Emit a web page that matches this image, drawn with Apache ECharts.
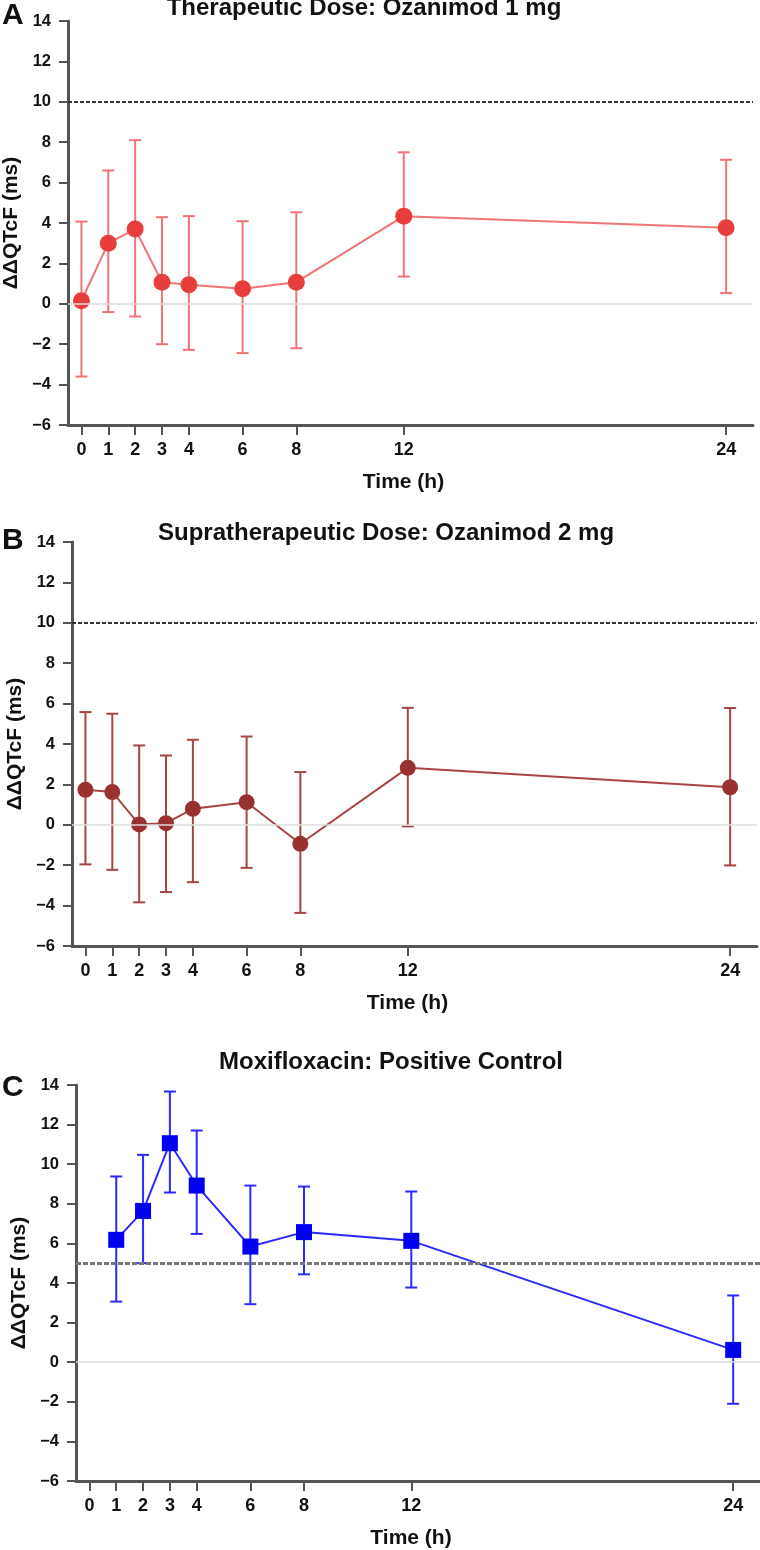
<!DOCTYPE html>
<html>
<head>
<meta charset="utf-8">
<script src="https://cdn.jsdelivr.net/npm/echarts@6/dist/echarts.min.js"></script>
<style>
html,body{margin:0;padding:0;background:#fff;}
#chart{width:760px;height:1550px;}
</style>
</head>
<body>
<div id="chart"></div>
<script>
// ---- data ----
const timesAB = [0, 1, 2, 3, 4, 6, 8, 12, 24];
const timesC = [1, 2, 3, 4, 6, 8, 12, 24];
const xTickValues = [0, 1, 2, 3, 4, 6, 8, 12, 24];

const meanA  = [0.15, 3.0, 3.7, 1.07, 0.94, 0.74, 1.07, 4.34, 3.76];
const lowerA = [-3.6, -0.41, -0.63, -2.0, -2.28, -2.44, -2.2, 1.35, 0.53];
const upperA = [4.07, 6.6, 8.1, 4.29, 4.34, 4.09, 4.53, 7.5, 7.13];

const meanB  = [1.73, 1.62, 0.02, 0.08, 0.79, 1.12, -0.94, 2.82, 1.86];
const lowerB = [-1.96, -2.23, -3.84, -3.33, -2.84, -2.13, -4.36, -0.08, -2.01];
const upperB = [5.58, 5.5, 3.93, 3.43, 4.21, 4.37, 2.61, 5.79, 5.78];

const meanC  = [6.18, 7.64, 11.06, 8.92, 5.84, 6.57, 6.13, 0.62];
const lowerC = [3.06, 5.0, 8.57, 6.48, 2.93, 4.44, 3.77, -2.1];
const upperC = [9.38, 10.47, 13.67, 11.7, 8.92, 8.87, 8.62, 3.37];

const titles = ['Therapeutic Dose: Ozanimod 1 mg', 'Supratherapeutic Dose: Ozanimod 2 mg', 'Moxifloxacin: Positive Control'];
const panelLetters = ['A', 'B', 'C'];
const refLines = [10, 10, 5];
const yAxisName = 'ΔΔQTcF (ms)';
const xAxisName = 'Time (h)';

// ---- styling / layout ----
const FONT = '"Liberation Sans", Arial, Helvetica, sans-serif';
const panels = [
  {times: timesAB, mean: meanA, lo: lowerA, hi: upperA, point: '#e83d3d', line: '#f07474', symbol: 'circle', size: 17,
   grid: {left: 68, top: 21, width: 685, height: 404}, titleX: 364, titleY: 8.5, letterY: 15.6,
   refColor: '#333', refWidth: 2, refDash: [4, 2]},
  {times: timesAB, mean: meanB, lo: lowerB, hi: upperB, point: '#993131', line: '#a84444', symbol: 'circle', size: 16,
   grid: {left: 72, top: 542, width: 685, height: 404}, titleX: 386, titleY: 533.5, letterY: 540.6,
   refColor: '#333', refWidth: 2, refDash: [4, 2]},
  {times: timesC, mean: meanC, lo: lowerC, hi: upperC, point: '#0000f0', line: '#2a2aff', symbol: 'rect', size: 16,
   grid: {left: 76, top: 1085, width: 684, height: 396}, titleX: 391, titleY: 1062.5, letterY: 1087.6,
   refColor: '#777', refWidth: 3, refDash: [5, 2]}
];

function fmtY(v) { return v < 0 ? '\u2212' + Math.abs(v) : String(v); }

const grids = [], xAxes = [], yAxes = [], series = [], graphics = [];

panels.forEach((p, k) => {
  grids.push(Object.assign({containLabel: false, outerBoundsMode: 'none'}, p.grid));
  xAxes.push({
    type: 'value', gridIndex: k, min: -0.5, max: 25,
    axisLine: {show: true, onZero: false, lineStyle: {color: '#555', width: 3}},
    axisTick: {show: true, customValues: xTickValues, length: 10, lineStyle: {color: '#555', width: 2}},
    axisLabel: {show: true, customValues: xTickValues, margin: 16, color: '#111', fontWeight: 'bold', fontSize: 18, fontFamily: FONT},
    splitLine: {show: false},
    name: xAxisName, nameLocation: 'middle', nameGap: 47,
    nameTextStyle: {color: '#111', fontWeight: 'bold', fontSize: 21, fontFamily: FONT, padding: [0, 14, 0, 0]}
  });
  yAxes.push({
    type: 'value', gridIndex: k, min: -6, max: 14, interval: 2,
    axisLine: {show: true, onZero: false, lineStyle: {color: '#555', width: 3}},
    axisTick: {show: true, length: 9, lineStyle: {color: '#555', width: 2}},
    axisLabel: {margin: 17, color: '#111', fontWeight: 'bold', fontSize: 16.5, fontFamily: FONT, formatter: fmtY},
    splitLine: {show: false},
    name: yAxisName, nameLocation: 'middle', nameRotate: 90, nameGap: 46,
    nameTextStyle: {color: '#111', fontWeight: 'bold', fontSize: 21, fontFamily: FONT}
  });

  const barColor = p.line;
  series.push({
    type: 'custom', xAxisIndex: k, yAxisIndex: k, z: 2, silent: true,
    data: p.times.map((t, i) => [t, p.lo[i], p.hi[i]]),
    encode: {x: 0, y: [1, 2]},
    renderItem: function (params, api) {
      const x = api.value(0);
      const a = api.coord([x, api.value(1)]);
      const b = api.coord([x, api.value(2)]);
      const hw = 6;
      const st = {stroke: barColor, lineWidth: 2};
      return {type: 'group', children: [
        {type: 'line', shape: {x1: a[0], y1: a[1], x2: b[0], y2: b[1]}, style: st},
        {type: 'line', shape: {x1: a[0] - hw, y1: a[1], x2: a[0] + hw, y2: a[1]}, style: st},
        {type: 'line', shape: {x1: b[0] - hw, y1: b[1], x2: b[0] + hw, y2: b[1]}, style: st}
      ]};
    },
    markLine: {
      silent: true, symbol: ['none', 'none'], label: {show: false}, animation: false,
      data: [
        {yAxis: 0, lineStyle: {color: '#dcdcdc', width: 1.5, type: 'solid'}},
        {yAxis: refLines[k], lineStyle: {color: p.refColor, width: p.refWidth, type: p.refDash}}
      ]
    }
  });
  series.push({
    type: 'line', xAxisIndex: k, yAxisIndex: k, z: 3, silent: true,
    data: p.times.map((t, i) => [t, p.mean[i]]),
    symbol: p.symbol, symbolSize: p.size, showAllSymbol: true,
    itemStyle: {color: p.point, opacity: 1},
    lineStyle: {color: p.line, width: 2}
  });

  graphics.push({
    type: 'text', x: p.titleX, y: p.titleY,
    style: {text: titles[k], textAlign: 'center', textVerticalAlign: 'middle',
      font: 'bold 24px ' + FONT, fill: '#111'}
  });
  graphics.push({
    type: 'text', x: 2, y: p.letterY,
    style: {text: panelLetters[k], textAlign: 'left', textVerticalAlign: 'middle',
      font: 'bold 30px ' + FONT, fill: '#111'}
  });
});

const chart = echarts.init(document.getElementById('chart'), null, {renderer: 'canvas'});
chart.setOption({
  animation: false,
  backgroundColor: '#fff',
  grid: grids, xAxis: xAxes, yAxis: yAxes, series: series, graphic: graphics
});
</script>
</body>
</html>
